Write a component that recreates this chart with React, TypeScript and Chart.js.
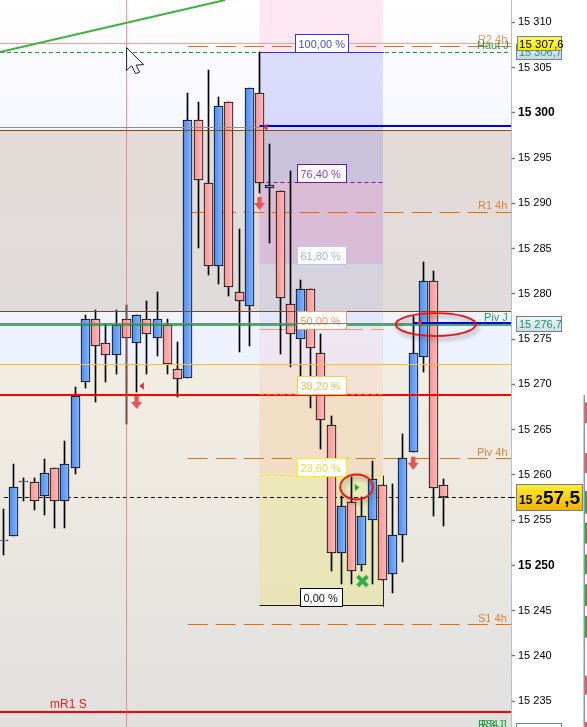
import React, { useEffect, useRef } from "react";
import { Chart, registerables } from "chart.js";

Chart.register(...registerables);

// ---- candles (index = position on the time axis) ----
const candleIndex = Array.from({ length: 44 }, (_, i) => i);
const opens = [
  15252.7, 15253.2, 15259.2, 15259.2, 15257.6, 15260.7, 15257.1, 15260.7, 15270.2, 15277.2, 15274.6,
  15273.2, 15277.2, 15274.6, 15277.2, 15275.1, 15276.6, 15271.7, 15270.7, 15299.2, 15292.2, 15283.1,
  15301.2, 15280.2, 15278.7, 15302.2, 15291.65, 15291.4, 15278.9, 15275.0, 15280.5, 15273.4, 15265.5,
  15251.4, 15257.0, 15250.0, 15255.0, 15258.9, 15249.0, 15253.4, 15262.5, 15273.0, 15281.4, 15258.9,
];
const closes = [
  15252.8, 15258.6, 15259.3, 15257.1, 15260.2, 15257.1, 15261.2, 15268.7, 15277.2, 15274.2, 15273.2,
  15276.6, 15275.1, 15277.6, 15275.6, 15277.2, 15272.2, 15270.6, 15299.2, 15292.6, 15283.1, 15300.7,
  15280.7, 15279.2, 15302.7, 15292.2, 15292.0, 15279.5, 15275.5, 15280.5, 15274.0, 15266.0, 15251.4,
  15256.5, 15249.4, 15255.4, 15259.5, 15248.4, 15253.4, 15261.9, 15273.4, 15281.4, 15258.5, 15257.5,
];
const highs = [
  15256.2, 15261.2, 15259.6, 15259.6, 15261.7, 15260.7, 15263.7, 15269.7, 15277.7, 15278.2, 15276.7,
  15278.2, 15278.8, 15277.6, 15279.2, 15280.2, 15277.2, 15274.7, 15302.2, 15301.2, 15304.7, 15301.7,
  15301.2, 15287.2, 15302.7, 15306.7, 15296.5, 15291.4, 15293.6, 15281.5, 15280.5, 15275.6, 15266.5,
  15257.6, 15259.8, 15257.5, 15261.5, 15258.9, 15259.0, 15264.5, 15277.5, 15283.5, 15282.5, 15259.5,
];
const lows = [
  15251.1, 15253.2, 15257.1, 15256.1, 15255.6, 15254.1, 15254.1, 15260.1, 15269.6, 15268.0, 15270.2,
  15271.1, 15265.6, 15269.2, 15271.1, 15273.1, 15271.1, 15268.6, 15270.7, 15285.1, 15282.1, 15281.1,
  15279.7, 15273.6, 15274.2, 15291.1, 15285.6, 15273.3, 15271.9, 15270.9, 15267.4, 15262.9, 15249.4,
  15247.9, 15247.9, 15249.4, 15247.9, 15248.4, 15246.9, 15250.4, 15262.5, 15271.4, 15255.4, 15254.3,
];

// ---- axis ----
const priceMin = 15232.13;
const priceMax = 15312.46;
const priceStep = 5;

// ---- price levels ----
const pinkLevel = 15307.6;
const r2h4 = 15307.3;
const hautJ = 15306.7;
const grayHigh = 15298.4;
const blueLevelHigh = 15298.5;
const brownHigh = 15298.05;
const r1h4 = 15289.0;
const brownLow = 15278.05;
const grayLow = 15276.75;
const pivJ = 15276.55;
const blueLevelLow = 15276.8;
const orangeLevel = 15272.2;
const redLevel = 15268.8;
const pivH4 = 15261.8;
const lastPrice = 15257.5;
const s1h4 = 15243.5;
const mr1s = 15233.8;

// ---- fibonacci retracement ----
const fibPrices = [15306.7, 15292.3, 15283.3, 15276.1, 15268.9, 15259.9, 15245.5];
const fibLabels = ["100,00 %", "76,40 %", "61,80 %", "50,00 %", "38,20 %", "23,60 %", "0,00 %"];
const fibStart = 25;
const fibEnd = 37.05;
const fibColors = ["#3434e0", "#7a10b0", "#b8c8f8", "#ff9468", "#ffc648", "#fff000", "#000000"];
const fibTextColors = ["#4a4ae0", "#9038c0", "#a4b4e6", "#ff9660", "#f2bc50", "#ecd83c", "#101010"];

// ---- axis boxes ----
const boxPrices = [15306.7, 15307.6, 15276.7];
const boxTexts = ["15 306,7", "15 307,6", "15 276,7"];

// ---- trend line (index, price) ----
const trendIndex = [-0.332, 21.65];
const trendPrice = [15306.7, 15312.46];

// ---- markers ----
const crosshairIndex = 12;
const downArrowIndex = [13, 25, 40];
const downArrowPrice = [15268.7, 15290.7, 15262.0];
const leftMarkIndex = [13.27, 25.34, 40.37];
const leftMarkPrice = [15269.8, 15298.4, 15276.8];
const entryMark = [34.3, 15258.6];
const crossMark = [35, 15248.25];
const circleA = [34.47, 15258.65];
const circleB = [42.2, 15276.6];
const cursorAnchor = [12, 15307.2];

// ---- right-hand strip segments (price from, price to) ----
const stripRed = [[15268, 15265.7], [15262.4, 15260.2], [15237.8, 15235.7], [15232.7, 15232]];
const stripGreen = [[15258.2, 15255.7], [15254.7, 15252.4], [15251.2, 15249], [15247.9, 15245.5], [15244.4, 15242]];

const SANS = '"Liberation Sans", Arial, sans-serif';

const formatPrice = (v: number) => "15 " + String(Math.round(v - 15000));

export default function App() {
  const ref = useRef<HTMLCanvasElement | null>(null);
  useEffect(() => {
    const canvas = ref.current!;
    const X = (c: Chart, i: number) => c.scales.x.getPixelForValue(i);
    const Y = (c: Chart, p: number) => c.scales.y.getPixelForValue(p);

    const hline = (
      c: Chart, price: number, color: string, width: number,
      dash: number[] = [], x0 = 0, x1 = 511,
    ) => {
      const g = c.ctx;
      const raw = Y(c, price);
      const y = width % 2 === 1 ? Math.floor(raw) + 0.5 : Math.round(raw);
      g.save();
      g.strokeStyle = color;
      g.lineWidth = width;
      g.setLineDash(dash);
      g.beginPath();
      g.moveTo(x0, y);
      g.lineTo(x1, y);
      g.stroke();
      g.restore();
    };

    const text = (c: Chart, s: string, x: number, y: number, color: string, font = `11px ${SANS}`, align: CanvasTextAlign = "left") => {
      const g = c.ctx;
      g.save();
      g.font = font;
      g.fillStyle = color;
      g.textAlign = align;
      g.textBaseline = "alphabetic";
      g.fillText(s, x, y);
      g.restore();
    };

    const downArrow = (c: Chart, cx: number, top: number) => {
      const g = c.ctx;
      g.save();
      g.fillStyle = "#e85454";
      g.beginPath();
      g.moveTo(cx - 2.2, top);
      g.lineTo(cx + 2.2, top);
      g.lineTo(cx + 2.2, top + 6);
      g.lineTo(cx + 5.5, top + 6);
      g.lineTo(cx, top + 13);
      g.lineTo(cx - 5.5, top + 6);
      g.lineTo(cx - 2.2, top + 6);
      g.closePath();
      g.fill();
      g.restore();
    };

    const triangle = (c: Chart, x: number, y: number, w: number, h: number, color: string) => {
      const g = c.ctx;
      g.save();
      g.fillStyle = color;
      g.beginPath();
      g.moveTo(x, y);
      g.lineTo(x + w, y - h / 2);
      g.lineTo(x + w, y + h / 2);
      g.closePath();
      g.fill();
      g.restore();
    };

    const ellipse = (c: Chart, cx: number, cy: number, rx: number, ry: number) => {
      const g = c.ctx;
      g.save();
      g.shadowColor = "rgba(60,60,60,0.5)";
      g.shadowBlur = 4;
      g.shadowOffsetX = 2;
      g.shadowOffsetY = 3;
      g.strokeStyle = "#f01010";
      g.lineWidth = 1.8;
      g.beginPath();
      g.ellipse(cx, cy, rx, ry, 0, 0, Math.PI * 2);
      g.stroke();
      g.restore();
    };

    const axisBox = (c: Chart, x: number, top: number, w: number, h: number, c1: string, c2: string) => {
      const g = c.ctx;
      const lg = g.createLinearGradient(0, top, 0, top + h);
      lg.addColorStop(0, c1);
      lg.addColorStop(1, c2);
      g.save();
      g.fillStyle = lg;
      g.fillRect(x, top, w, h);
      g.strokeStyle = "#708090";
      g.lineWidth = 1;
      g.strokeRect(x + 0.5, top + 0.5, w - 1, h - 1);
      g.restore();
    };

    const snapPlugin = {
      id: "snap",
      afterDatasetsUpdate(c: Chart) {
        c.getSortedVisibleDatasetMetas().forEach((m: any) => {
          m.data.forEach((el: any) => {
            el.x = Math.floor(el.x) + 0.5;
            el.y = Math.round(el.y);
            el.base = Math.round(el.base);
            if (Math.abs(el.base - el.y) < 1) el.base = el.y + 1;
          });
        });
      },
    };

    const backdropPlugin = {
      id: "backdrop",
      beforeDatasetsDraw(c: Chart) {
        const g = c.ctx;
        const { left, right, top, bottom } = c.chartArea;
        const w = right - left;
        const band = (a: number, b: number, c1: string, c2: string) => {
          const y0 = a, y1 = b;
          const lg = g.createLinearGradient(0, y0, 0, y1);
          lg.addColorStop(0, c1);
          lg.addColorStop(1, c2);
          g.fillStyle = lg;
          g.fillRect(left, y0, w, y1 - y0);
        };
        const yBrownH = Math.round(Y(c, brownHigh));
        const yBrownL = Math.round(Y(c, brownLow));
        const yOrange = Math.round(Y(c, orangeLevel));
        band(top, yBrownH, "#ffffff", "#f6f6ff");
        band(yBrownH, yBrownL, "#e4dbd7", "#e0dcdc");
        band(yBrownL, yOrange, "#eef3ff", "#edf2fe");
        band(yOrange, bottom, "#f3eee2", "#e1e0df");

        // fibonacci zones
        const fx0 = X(c, fibStart);
        const fx1 = X(c, fibEnd);
        const zoneFill = [
          "rgba(70,70,230,0.17)", "rgba(190,60,200,0.2)", "rgba(120,140,240,0.1)",
          "rgba(240,110,100,0.09)", "rgba(245,150,40,0.15)", "rgba(235,225,60,0.24)",
        ];
        g.fillStyle = "#fde7f2";
        g.fillRect(fx0, top, fx1 - fx0, Y(c, fibPrices[0]));
        zoneFill.forEach((col, i) => {
          const a = Y(c, fibPrices[i]);
          const b = Y(c, fibPrices[i + 1]);
          g.fillStyle = col;
          g.fillRect(fx0, a, fx1 - fx0, b - a);
        });

        const dashOrange = "#dd6f10";
        hline(c, pinkLevel, "#ff9a9a", 1);
        hline(c, r2h4, dashOrange, 1, [20, 8], X(c, 18), right);
        hline(c, hautJ, "#10a028", 1, [4, 3]);
        hline(c, r1h4, dashOrange, 1, [20, 8], X(c, 18), right);
        hline(c, pivH4, dashOrange, 1, [20, 8], X(c, 18), right);
        hline(c, lastPrice, "#101010", 1, [4, 3], X(c, 0.05), right);
        hline(c, s1h4, dashOrange, 1, [20, 8], X(c, 18), right);
        hline(c, mr1s, "#ff0000", 2);

        // trend line
        g.save();
        g.strokeStyle = "#3cb43c";
        g.lineWidth = 2;
        g.beginPath();
        g.moveTo(X(c, trendIndex[0]), Y(c, trendPrice[0]));
        g.lineTo(X(c, trendIndex[1]), Y(c, trendPrice[1]));
        g.stroke();
        g.restore();

        // fib frame + dashes
        g.save();
        g.strokeStyle = "#1a1a1a";
        g.lineWidth = 1;
        g.beginPath();
        g.moveTo(fx1 + 0.5, Y(c, fibPrices[5]));
        g.lineTo(fx1 + 0.5, Y(c, fibPrices[6]) + 1);
        g.moveTo(fx0, Math.floor(Y(c, fibPrices[6])) + 0.5);
        g.lineTo(fx1 + 1, Math.floor(Y(c, fibPrices[6])) + 0.5);
        g.stroke();
        g.restore();
        hline(c, fibPrices[0], fibColors[0], 1, [], fx0, fx1 + 1);
        hline(c, fibPrices[1], fibColors[1], 1, [4, 3], fx0, fx1 + 1);
        hline(c, fibPrices[2], fibColors[2], 1, [4, 3], fx0, fx1 + 1);
        hline(c, fibPrices[3], fibColors[3], 1, [103.5, 8.5], fx0, fx1 + 1);
        hline(c, fibPrices[5], fibColors[5], 1, [4, 3], fx0, fx1 + 1);
      },
      afterDatasetsDraw(c: Chart) {
        const g = c.ctx;
        const right = c.chartArea.right;
        const fx0 = X(c, fibStart);
        const fx1 = X(c, fibEnd);

        // levels that pass over the candles, below the fib captions
        hline(c, brownHigh, "#8b4a14", 1);
        hline(c, brownLow, "#7a4a20", 1);
        hline(c, orangeLevel, "#ffbc30", 1);
        hline(c, pivJ, "#14963c", 1.4);
        hline(c, redLevel, "#ff0000", 2);
        hline(c, fibPrices[4], fibColors[4], 1.5, [4, 3], fx0, fx1 + 1);

        // fib labels
        fibLabels.forEach((label, i) => {
          const bottom = Math.round(Y(c, fibPrices[i])) + 1;
          const wide = i === 0;
          const zero = i === 6;
          const bw = wide ? 54 : zero ? 43 : 50;
          const bx = wide ? 295 : zero ? 300 : 297;
          const by = bottom - 19;
          g.fillStyle = "#ffffff";
          g.fillRect(bx, by, bw, 18);
          g.strokeStyle = fibColors[i];
          g.lineWidth = 1;
          g.strokeRect(bx + 0.5, by + 0.5, bw - 1, 18);
          text(c, label, bx + 3.5, bottom - 5, fibTextColors[i]);
        });

        // lines over the captions
        hline(c, grayHigh, "#8e8e8e", 1, [], 0, X(c, 25));
        hline(c, grayLow, "#86807a", 1, [], 0, X(c, 40));
        hline(c, blueLevelHigh, "#0000e0", 2, [], X(c, 25), right);
        hline(c, blueLevelLow, "#0000e0", 2, [], X(c, 40), right);

        // crosshair
        const vx = Math.floor(X(c, crosshairIndex)) + 0.5;
        g.save();
        g.strokeStyle = "rgba(255,90,90,0.65)";
        g.lineWidth = 1;
        g.beginPath();
        g.moveTo(vx, 0);
        g.lineTo(vx, c.height);
        g.stroke();
        g.restore();

        // markers
        downArrowIndex.forEach((idx, i) => downArrow(c, X(c, idx), Y(c, downArrowPrice[i])));
        leftMarkIndex.forEach((idx, i) => triangle(c, X(c, idx), Y(c, leftMarkPrice[i]), 4.5, 7.5, "#d8343c"));
        // green entry mark
        g.save();
        g.fillStyle = "#1cae28";
        const ex = X(c, entryMark[0]);
        const ey = Y(c, entryMark[1]);
        g.beginPath();
        g.moveTo(ex, ey - 3.6);
        g.lineTo(ex + 4.6, ey);
        g.lineTo(ex, ey + 3.6);
        g.closePath();
        g.fill();
        g.restore();
        // green cross
        g.save();
        g.strokeStyle = "#34b048";
        g.lineWidth = 4;
        g.lineCap = "square";
        const cx = X(c, crossMark[0]) + 0.5;
        const cy = Y(c, crossMark[1]);
        g.beginPath();
        g.moveTo(cx - 3.5, cy - 3.5);
        g.lineTo(cx + 3.5, cy + 3.5);
        g.moveTo(cx + 3.5, cy - 3.5);
        g.lineTo(cx - 3.5, cy + 3.5);
        g.stroke();
        g.restore();

        ellipse(c, X(c, circleA[0]), Y(c, circleA[1]), 16.3, 12.5);
        ellipse(c, X(c, circleB[0]), Y(c, circleB[1]), 40, 11.5);

        // level captions
        const orangeText = "#d8843c";
        text(c, "R2 4h", 478, 43, "#dd9a55");
        text(c, "Haut J", 477, 49, "#2aa04a");
        text(c, "R1 4h", 478, 209, orangeText);
        text(c, "Piv J", 484, 321, "#1ea060");
        text(c, "Piv 4h", 477, 456, orangeText);
        text(c, "S1 4h", 478, 622, orangeText);
        text(c, "mR1 S", 50, 708, "#e82020", `12px ${SANS}`);
        text(c, "R34 J", 478, 728, "#22a040");
        text(c, "R3 J", 481, 728, "#22a040");

        // mouse cursor
        const ax = X(c, cursorAnchor[0]) + 0.3;
        const ay = Y(c, cursorAnchor[1]);
        g.save();
        g.fillStyle = "#ffffff";
        g.strokeStyle = "#1c1c2c";
        g.lineWidth = 1;
        g.beginPath();
        g.moveTo(ax, ay);
        g.lineTo(ax, ay + 23);
        g.lineTo(ax + 5, ay + 18);
        g.lineTo(ax + 9, ay + 26);
        g.lineTo(ax + 13, ay + 24.5);
        g.lineTo(ax + 9.5, ay + 17.5);
        g.lineTo(ax + 17, ay + 17);
        g.closePath();
        g.fill();
        g.stroke();
        g.restore();

        // axis boxes
        const b0 = Math.round(Y(c, boxPrices[0]));
        axisBox(c, 516, b0 - 8, 46, 16, "#e6eef6", "#c4d6e8");
        text(c, boxTexts[0], 519, b0 + 4, "#20a060");
        const b1 = Math.round(Y(c, boxPrices[1]));
        axisBox(c, 517, b1 - 8, 45, 15, "#fff866", "#f6ea00");
        text(c, boxTexts[1], 519, b1 + 4, "#000000", `11.5px ${SANS}`);
        const b2 = Math.round(Y(c, boxPrices[2]));
        axisBox(c, 516, b2 - 8, 46, 16, "#f2f6fa", "#cfdcea");
        text(c, boxTexts[2], 519, b2 + 4, "#129a5a");

        const ylast = Math.round(Y(c, lastPrice));
        hline(c, lastPrice, "#101010", 1, [4, 3], right, 517);
        axisBox(c, 516, ylast - 13, 67, 27, "#fff030", "#f0b000");
        text(c, "15 2", 519, ylast + 7, "#000000", `bold 12px ${SANS}`);
        text(c, "57,5", 543, ylast + 7, "#000000", `bold 19px ${SANS}`);

        axisBox(c, 516, 723, 46, 8, "#ffffff", "#ffffff");

        // right-hand strip
        g.fillStyle = "#8898ac";
        g.fillRect(583.5, 395, 1.5, c.height - 395);
        stripRed.forEach((s) => {
          g.fillStyle = "#e85860";
          g.fillRect(585, Y(c, s[0]), 2, Y(c, s[1]) - Y(c, s[0]));
        });
        stripGreen.forEach((s) => {
          g.fillStyle = "#28b030";
          g.fillRect(585, Y(c, s[0]), 2, Y(c, s[1]) - Y(c, s[0]));
        });
      },
    };

    const bodyPaint = (ctx: any) => {
      const i = ctx.dataIndex;
      const c = ctx.chart as Chart;
      if (i === undefined || !c.scales.x) return "#ffffff";
      const up = closes[i] >= opens[i];
      const mid = Math.floor(c.scales.x.getPixelForValue(candleIndex[i])) + 0.5;
      if (!Number.isFinite(mid)) return up ? "#6aa0f6" : "#f9a8a8";
      const lg = c.ctx.createLinearGradient(mid - 4.5, 0, mid + 4.5, 0);
      if (up) {
        lg.addColorStop(0, "#4d8bee");
        lg.addColorStop(1, "#86b6ff");
      } else {
        lg.addColorStop(0, "#f39494");
        lg.addColorStop(1, "#ffbcbc");
      }
      return lg;
    };

    const chart = new Chart(canvas, {
      type: "bar",
      data: {
        datasets: [
          {
            label: "body",
            data: candleIndex.map((i) => ({ x: i, y: [opens[i], closes[i]] })) as any,
            backgroundColor: bodyPaint,
            borderColor: "#000000",
            borderWidth: 1,
            borderSkipped: false,
            barThickness: 9,
            grouped: false,
            order: 1,
          } as any,
          {
            label: "wick",
            data: candleIndex.map((i) => ({ x: i, y: [lows[i], highs[i]] })) as any,
            backgroundColor: "#000000",
            borderWidth: 0,
            barThickness: 1,
            grouped: false,
            order: 2,
          } as any,
        ],
      },
      options: {
        responsive: false,
        animation: false,
        devicePixelRatio: 1,
        layout: { padding: 0 },
        plugins: { legend: { display: false }, tooltip: { enabled: false }, title: { display: false } },
        scales: {
          x: {
            type: "linear",
            display: false,
            offset: false,
            min: -0.3319,
            max: 49.546,
            grid: { display: false },
          },
          y: {
            type: "linear",
            position: "right",
            min: priceMin,
            max: priceMax,
            afterFit(s: any) {
              s.width = 76;
              s.paddingTop = 0;
              s.paddingBottom = 0;
            },
            border: { color: "#708090", width: 1.5 },
            grid: { drawOnChartArea: false, tickLength: 4, tickColor: "#708090", tickWidth: 1.5 },
            ticks: {
              stepSize: priceStep,
              includeBounds: false,
              autoSkip: false,
              padding: 3,
              color: "#000000",
              callback: (v: any) => formatPrice(Number(v)),
              font: (ctx: any) =>
                ctx.tick && Number(ctx.tick.value) % 50 === 0
                  ? { family: "Liberation Sans", size: 12, weight: "bold" }
                  : { family: "Liberation Sans", size: 11, weight: "normal" },
            },
          },
        },
      } as any,
      plugins: [snapPlugin, backdropPlugin],
    });
    return () => chart.destroy();
  }, []);

  return (
    <div style={{ position: "fixed", left: 0, top: 0, width: 587, height: 727, overflow: "hidden", background: "#ffffff" }}>
      <canvas ref={ref} width={587} height={727} style={{ display: "block", width: 587, height: 727 }} />
    </div>
  );
}
